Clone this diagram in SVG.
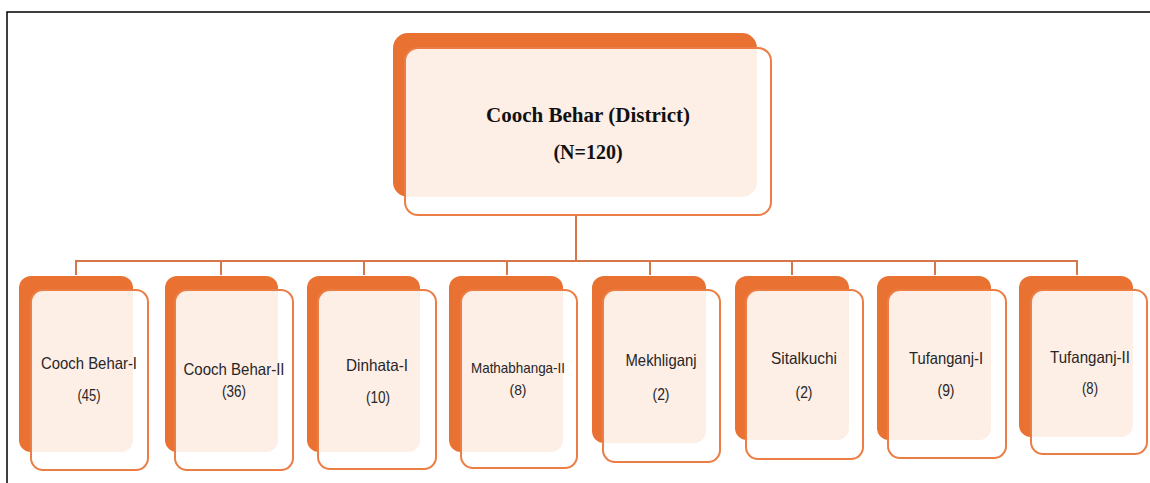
<svg xmlns="http://www.w3.org/2000/svg" width="1150" height="483" viewBox="0 0 1150 483">
<style>
.back{fill:#E97132;}
.front{fill:#ffffff;fill-opacity:0.88;stroke:#EC7E45;stroke-width:2;}
.lbl{font-family:"Liberation Sans",Arial,sans-serif;font-size:16.5px;fill:#262626;text-anchor:middle;}
.title{font-family:"Liberation Serif","DejaVu Serif",serif;font-size:20px;font-weight:bold;fill:#111;text-anchor:middle;}
.conn{stroke:#D5774A;stroke-width:2;fill:none;}
</style>
<rect width="1150" height="483" fill="#ffffff"/>
<path d="M7,483 V12 H1150" fill="none" stroke="#000" stroke-width="1.5"/>
<g id="connectors">
<path class="conn" d="M576,215 V261"/>
<path class="conn" d="M76,261 H1077"/>
<path class="conn" d="M76,260 V275 M221,260 V275 M364,260 V275 M507,260 V275 M650,260 V275 M792,260 V275 M935,260 V275 M1077,260 V275"/>
</g>
<g id="district">
<rect class="back" x="393" y="33" width="364" height="164" rx="15"/>
<rect class="front" x="405" y="48" width="366" height="167" rx="13"/>
<text class="title" x="588" y="122" textLength="204" lengthAdjust="spacingAndGlyphs">Cooch Behar (District)</text>
<text class="title" x="588" y="159">(N=120)</text>
</g>
<g id="n1">
<rect class="back" x="19" y="276" width="114" height="176" rx="12"/>
<rect class="front" x="31" y="290" width="117" height="180" rx="12"/>
<text class="lbl" x="89" y="369" textLength="96" lengthAdjust="spacingAndGlyphs">Cooch Behar-I</text>
<text class="lbl" x="89" y="401" textLength="23" lengthAdjust="spacingAndGlyphs">(45)</text>
</g>
<g id="n2">
<rect class="back" x="165" y="276" width="113" height="176" rx="12"/>
<rect class="front" x="175" y="290" width="118" height="180" rx="12"/>
<text class="lbl" x="234" y="375" textLength="101" lengthAdjust="spacingAndGlyphs">Cooch Behar-II</text>
<text class="lbl" x="234" y="397" textLength="24" lengthAdjust="spacingAndGlyphs">(36)</text>
</g>
<g id="n3">
<rect class="back" x="307" y="276" width="113" height="176" rx="12"/>
<rect class="front" x="318" y="290" width="118" height="179" rx="12"/>
<text class="lbl" x="377" y="371" textLength="62" lengthAdjust="spacingAndGlyphs">Dinhata-I</text>
<text class="lbl" x="378" y="403" textLength="24" lengthAdjust="spacingAndGlyphs">(10)</text>
</g>
<g id="n4">
<rect class="back" x="449" y="276" width="114" height="176" rx="12"/>
<rect class="front" x="461" y="290" width="116" height="178" rx="12"/>
<text class="lbl" x="518" y="373" style="font-size:14.5px" textLength="94" lengthAdjust="spacingAndGlyphs">Mathabhanga-II</text>
<text class="lbl" x="518" y="395" style="font-size:14.5px" textLength="17" lengthAdjust="spacingAndGlyphs">(8)</text>
</g>
<g id="n5">
<rect class="back" x="592" y="276" width="114" height="167" rx="12"/>
<rect class="front" x="603" y="290" width="117" height="172" rx="12"/>
<text class="lbl" x="661" y="366" textLength="71" lengthAdjust="spacingAndGlyphs">Mekhliganj</text>
<text class="lbl" x="661" y="400" textLength="17" lengthAdjust="spacingAndGlyphs">(2)</text>
</g>
<g id="n6">
<rect class="back" x="735" y="276" width="114" height="164" rx="12"/>
<rect class="front" x="746" y="290" width="117" height="169" rx="12"/>
<text class="lbl" x="804" y="364" textLength="66" lengthAdjust="spacingAndGlyphs">Sitalkuchi</text>
<text class="lbl" x="804" y="398" textLength="17" lengthAdjust="spacingAndGlyphs">(2)</text>
</g>
<g id="n7">
<rect class="back" x="877" y="276" width="114" height="164" rx="12"/>
<rect class="front" x="888" y="290" width="118" height="168" rx="12"/>
<text class="lbl" x="946" y="364" textLength="74" lengthAdjust="spacingAndGlyphs">Tufanganj-I</text>
<text class="lbl" x="946" y="396" textLength="17" lengthAdjust="spacingAndGlyphs">(9)</text>
</g>
<g id="n8">
<rect class="back" x="1019" y="276" width="114" height="161" rx="12"/>
<rect class="front" x="1031" y="290" width="116" height="164" rx="12"/>
<text class="lbl" x="1090" y="363" textLength="80" lengthAdjust="spacingAndGlyphs">Tufanganj-II</text>
<text class="lbl" x="1090" y="394" textLength="16" lengthAdjust="spacingAndGlyphs">(8)</text>
</g>
</svg>
